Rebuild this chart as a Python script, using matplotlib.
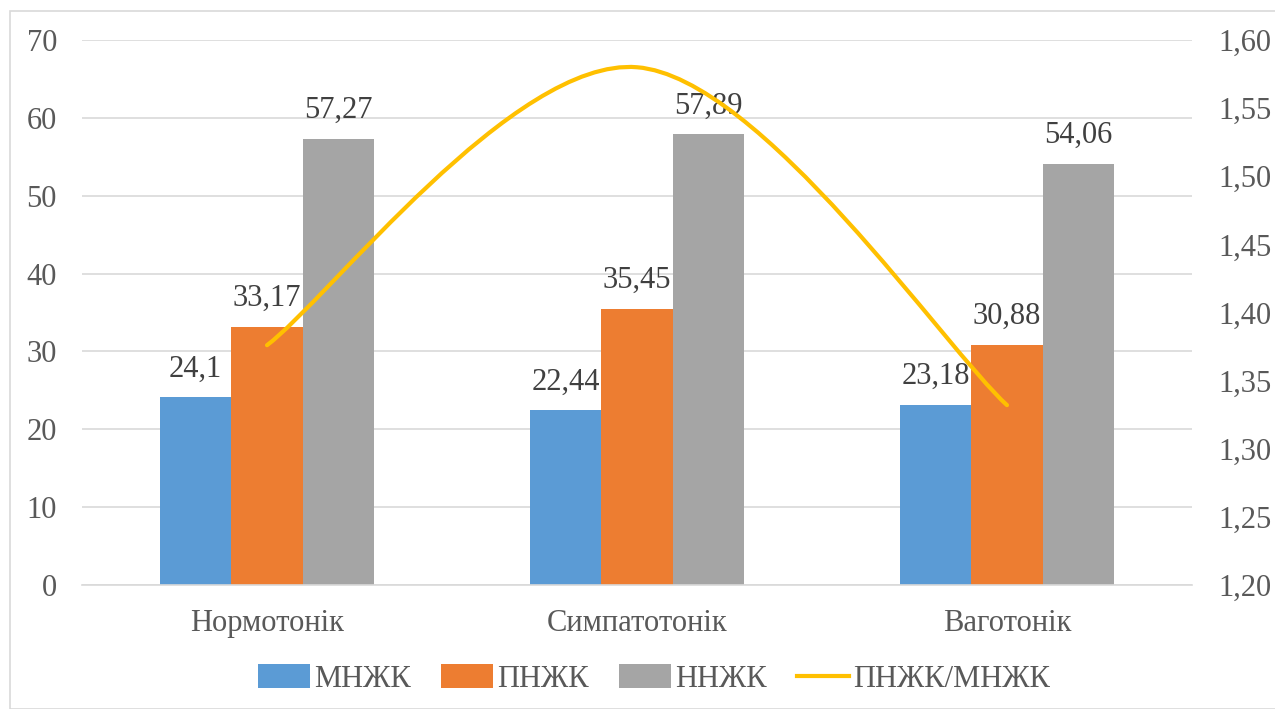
import numpy as np
import matplotlib
matplotlib.use('Agg')
import matplotlib.pyplot as plt
from matplotlib.path import Path
from matplotlib.patches import PathPatch, Rectangle, Patch
from matplotlib.lines import Line2D
from matplotlib.ticker import FuncFormatter

plt.rcParams['font.family'] = ['Liberation Serif', 'DejaVu Serif']

categories = ['Нормотонік', 'Симпатотонік', 'Ваготонік']
mnzhk = [24.1, 22.44, 23.18]
pnzhk = [33.17, 35.45, 30.88]
nnzhk = [57.27, 57.89, 54.06]
ratio = [1.376, 1.580, 1.332]

labels_bar = ['МНЖК', 'ПНЖК', 'ННЖК']
label_line = 'ПНЖК/МНЖК'
colors = ['#5B9BD5', '#ED7D31', '#A5A5A5']
line_color = '#FFC000'
tick_color = '#595959'
text_color = '#404040'
fs = 22

fig = plt.figure(figsize=(12.75, 7.09), dpi=100)
W, H = 1275, 709
ax = fig.add_axes([82 / W, 124 / H, (1192 - 82) / W, 545 / H])

# chart frame
fig.patches.append(Rectangle((10 / W, 0), 1.2, (H - 11) / H, transform=fig.transFigure,
                             fill=False, edgecolor='#D9D9D9', linewidth=1.2))

x = np.arange(len(categories))
w = 0.193
for i, (vals, c) in enumerate(zip([mnzhk, pnzhk, nnzhk], colors)):
    pos = x + (i - 1) * w
    bars = ax.bar(pos, vals, width=w, color=c, zorder=2)
    for b, v in zip(bars, vals):
        ax.annotate(f'{v:g}'.replace('.', ','), (b.get_x() + b.get_width() / 2, v),
                    xytext=(0, 10), textcoords='offset points', ha='center', va='bottom',
                    fontsize=fs, color=text_color)

ax.set_xlim(-0.5, 2.5)
ax.set_ylim(0, 70)
ax.set_yticks(range(0, 71, 10))
ax.set_xticks(x)
ax.set_xticklabels(categories)
ax.grid(axis='y', color='#D9D9D9', linewidth=1.2, zorder=0)
for s in ['top', 'left', 'right']:
    ax.spines[s].set_visible(False)
ax.spines['bottom'].set_color('#D9D9D9')
ax.spines['bottom'].set_linewidth(1.2)
ax.tick_params(axis='both', length=0, labelsize=fs, colors=tick_color)
ax.tick_params(axis='y', pad=18)
ax.tick_params(axis='x', pad=17)

ax2 = ax.twinx()
ax2.set_ylim(1.2, 1.6)
ax2.set_yticks(np.arange(1.2, 1.601, 0.05))
ax2.yaxis.set_major_formatter(FuncFormatter(lambda v, p: f'{v:.2f}'.replace('.', ',')))
for s in ax2.spines.values():
    s.set_visible(False)
ax2.tick_params(axis='y', length=0, labelsize=fs, colors=tick_color, pad=19)

# smoothed line (Excel-style bezier through points)
pts = np.column_stack([x, ratio]).astype(float)
n = len(pts)
verts = [pts[0]]
codes = [Path.MOVETO]
for k in range(n - 1):
    p0 = pts[max(k - 1, 0)]
    p1 = pts[k]
    p2 = pts[k + 1]
    p3 = pts[min(k + 2, n - 1)]
    verts += [p1 + (p2 - p0) / 6, p2 - (p3 - p1) / 6, p2]
    codes += [Path.CURVE4] * 3
ax2.add_patch(PathPatch(Path(verts, codes), fill=False, edgecolor=line_color,
                        linewidth=3, capstyle='round', zorder=3))

handles = [Patch(facecolor=c, edgecolor='none') for c in colors]
handles.append(Line2D([0], [0], color=line_color, linewidth=3))
fig.legend(handles, labels_bar + [label_line], loc='center', bbox_to_anchor=(654 / W, 30 / H),
           ncol=4, frameon=False, fontsize=fs, handlelength=1.7, handleheight=0.85,
           handletextpad=0.13, columnspacing=1.0, labelcolor=tick_color)

fig.savefig('out.png', dpi=100)
